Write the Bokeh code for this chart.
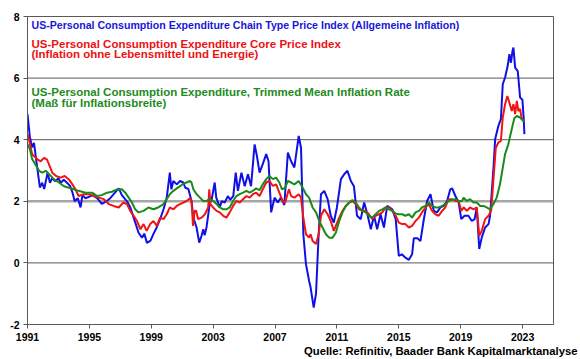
from bokeh.plotting import figure
from bokeh.models import Span, Label, FixedTicker, Range1d, Title
from bokeh.embed import file_html
from bokeh.resources import INLINE

x_ticks = [1991, 1995, 1999, 2003, 2007, 2011, 2015, 2019, 2023]
y_ticks = [-2, 0, 2, 4, 6, 8]

# PCE headline (blue)
blue_x = [1991.00, 1991.15, 1991.3, 1991.42, 1991.6, 1991.8, 1991.95, 1992.08, 1992.3, 1992.45, 1992.6, 1992.8,
          1993.0, 1993.15, 1993.35, 1993.55, 1993.75, 1993.9, 1994.05, 1994.25, 1994.43, 1994.55, 1994.75,
          1995.0, 1995.2, 1995.5, 1995.8, 1996.1, 1996.35, 1996.57, 1996.9, 1997.1, 1997.43, 1997.65, 1997.86,
          1998.18, 1998.4, 1998.55, 1998.72, 1998.95, 1999.15, 1999.35, 1999.57, 1999.8, 2000.0, 2000.2, 2000.3,
          2000.43, 2000.65, 2000.86, 2001.07, 2001.2, 2001.4, 2001.6, 2001.72, 2001.93, 2002.1, 2002.25, 2002.36,
          2002.45, 2002.57, 2002.79, 2002.9, 2003.1, 2003.2, 2003.43, 2003.55, 2003.75, 2003.95, 2004.1, 2004.3,
          2004.46, 2004.6, 2004.83, 2005.04, 2005.25, 2005.45, 2005.68, 2005.83, 2006.0, 2006.2, 2006.43, 2006.58,
          2006.75, 2006.97, 2007.18, 2007.38, 2007.6, 2007.83, 2008.04, 2008.25, 2008.53, 2008.68, 2008.83, 2009.0,
          2009.2, 2009.3, 2009.5, 2009.65, 2009.82, 2009.97, 2010.18, 2010.4, 2010.6, 2010.8, 2011.0, 2011.26,
          2011.47, 2011.68, 2011.9, 2012.1, 2012.3, 2012.54, 2012.76, 2012.97, 2013.19, 2013.4, 2013.6, 2013.82,
          2014.04, 2014.25, 2014.58, 2014.8, 2015.0, 2015.2, 2015.43, 2015.65, 2015.86, 2015.97, 2016.2, 2016.4,
          2016.6, 2016.83, 2017.05, 2017.26, 2017.47, 2017.69, 2017.9, 2018.12, 2018.33, 2018.45, 2018.65, 2018.87,
          2019.04, 2019.25, 2019.5, 2019.72, 2019.9, 2020.04, 2020.2, 2020.36, 2020.58, 2020.8, 2020.9, 2021.12,
          2021.23, 2021.44, 2021.6, 2021.72, 2021.87, 2022.04, 2022.15, 2022.25, 2022.35, 2022.41, 2022.52, 2022.69,
          2022.84, 2022.99, 2023.07, 2023.12]
blue_y = [4.83, 4.1, 3.75, 3.9, 3.2, 2.45, 2.6, 2.4, 2.93, 2.6, 2.75, 2.65,
          2.75, 2.6, 2.7, 2.6, 2.5, 2.3, 2.0, 2.1, 1.8, 2.2, 2.1,
          2.15, 2.2, 2.1, 1.92, 2.0, 2.1, 2.23, 2.42, 2.2, 2.0, 1.8, 1.47,
          0.98, 0.82, 0.95, 0.65, 0.72, 0.95, 1.15, 1.42, 1.75, 2.12, 2.93, 2.39,
          2.66, 2.55, 2.66, 2.61, 2.44, 2.4, 2.01, 1.47, 1.15, 0.66, 0.88, 1.09,
          0.9, 1.15, 1.96, 2.05, 2.61, 2.12, 1.8, 2.0, 1.96, 2.17, 2.05, 2.17,
          2.93, 2.34, 2.93, 2.49, 2.88, 2.49, 3.85, 3.47, 2.93, 3.2, 3.53, 3.3,
          1.64, 2.12, 1.96, 2.12, 1.88, 3.58, 3.3, 3.1, 4.12, 3.74, 0.93, -0.04,
          -0.58, -0.8, -1.45, -1.0, 0.93, 2.23, 2.34, 2.07, 1.53, 1.31, 1.8, 2.72,
          2.88, 2.99, 2.66, 2.49, 1.53, 1.42, 1.96, 1.58, 1.09, 1.53, 1.09, 1.58,
          1.15, 1.85, 1.74, 1.42, 0.23, 0.28, 0.17, 0.1, 0.28, 0.8, 0.8, 0.71,
          1.36, 2.01, 2.23, 1.69, 1.64, 1.8, 1.85, 2.01, 2.39, 2.42, 2.18, 1.96,
          1.42, 1.53, 1.53, 1.36, 1.42, 1.8, 0.45, 0.82, 1.15, 1.26, 1.53, 3.09,
          4.02, 4.45, 4.67, 5.8, 6.02, 6.4, 6.78, 6.5, 6.88, 6.99, 6.34, 6.23,
          5.37, 5.3, 4.72, 4.18]

# Core PCE (red)
red_x = [1991.0, 1991.1, 1991.3, 1991.64, 1991.85, 1992.07, 1992.25, 1992.35, 1992.6, 1992.85, 1993.14, 1993.4,
         1993.68, 1993.9, 1994.1, 1994.3, 1994.64, 1994.96, 1995.28, 1995.6, 1995.93, 1996.25, 1996.57, 1996.9,
         1997.2, 1997.43, 1997.64, 1997.86, 1998.08, 1998.3, 1998.5, 1998.7, 1998.93, 1999.14, 1999.36, 1999.57,
         1999.79, 2000.0, 2000.2, 2000.43, 2000.65, 2000.86, 2001.07, 2001.28, 2001.5, 2001.6, 2001.7, 2001.8,
         2001.9, 2002.03, 2002.25, 2002.47, 2002.68, 2002.75, 2002.82, 2003.0, 2003.22, 2003.43, 2003.65, 2003.86,
         2004.07, 2004.29, 2004.5, 2004.72, 2004.93, 2005.15, 2005.36, 2005.57, 2005.78, 2006.0, 2006.21, 2006.43,
         2006.64, 2006.86, 2007.07, 2007.28, 2007.5, 2007.65, 2007.83, 2007.9, 2008.04, 2008.25, 2008.53, 2008.68,
         2008.83, 2009.0, 2009.2, 2009.3, 2009.43, 2009.65, 2009.82, 2009.97, 2010.18, 2010.4, 2010.6, 2010.8,
         2010.93, 2011.15, 2011.36, 2011.58, 2011.8, 2012.0, 2012.22, 2012.43, 2012.65, 2012.86, 2013.07, 2013.29,
         2013.5, 2013.72, 2013.93, 2014.15, 2014.36, 2014.58, 2014.8, 2015.0, 2015.22, 2015.43, 2015.65, 2015.86,
         2016.08, 2016.3, 2016.5, 2016.72, 2016.93, 2017.15, 2017.37, 2017.58, 2017.8, 2018.0, 2018.22, 2018.43,
         2018.65, 2018.87, 2019.04, 2019.2, 2019.4, 2019.6, 2019.83, 2020.04, 2020.2, 2020.36, 2020.58, 2020.8,
         2020.97, 2021.12, 2021.27, 2021.44, 2021.6, 2021.72, 2021.87, 2022.02, 2022.15, 2022.3, 2022.41, 2022.52,
         2022.63, 2022.73, 2022.84, 2022.95, 2023.1]
red_y = [4.18, 4.0, 3.53, 3.36, 3.3, 3.41, 3.36, 3.25, 2.93, 2.82, 2.77, 2.82,
         2.71, 2.55, 2.39, 2.17, 2.23, 2.23, 2.17, 2.12, 2.07, 1.91, 1.85, 1.8,
         1.96, 1.91, 1.69, 1.53, 1.36, 1.09, 1.26, 1.04, 1.26, 1.36, 1.2, 1.47,
         1.42, 1.58, 1.8, 1.74, 1.85, 1.91, 1.96, 2.01, 2.1, 2.01, 1.2, 1.69,
         1.69, 1.42, 1.47, 1.58, 1.8, 2.39, 1.91, 1.8, 1.69, 1.64, 1.53, 1.47,
         1.64, 1.85, 2.01, 1.96, 2.07, 2.17, 2.12, 2.23, 2.28, 2.17, 2.39, 2.61,
         2.66, 2.5, 2.55, 2.28, 2.0, 1.95, 2.28, 2.39, 2.17, 2.12, 2.23, 2.12,
         1.47, 0.93, 0.82, 0.93, 0.71, 0.61, 0.93, 1.53, 1.74, 1.58, 1.36, 1.04,
         1.2, 1.47, 1.69, 1.85, 1.96, 2.01, 1.91, 1.74, 1.69, 1.69, 1.58, 1.42,
         1.53, 1.58, 1.64, 1.8, 1.8, 1.69, 1.53, 1.31, 1.26, 1.26, 1.15, 1.2,
         1.36, 1.47, 1.64, 1.8, 1.91, 1.69, 1.58, 1.53, 1.69, 1.8, 2.07, 2.07,
         2.01, 2.01, 1.69, 1.8, 1.69, 1.8, 1.74, 1.8, 0.88, 1.04, 1.42, 1.53,
         1.69, 2.72, 3.74, 3.91, 3.96, 4.72, 5.15, 5.42, 5.2, 4.93, 5.15, 4.83,
         5.26, 4.93, 5.0, 4.67, 4.61]

# Trimmed mean PCE (green)
green_x = [1991.0, 1991.15, 1991.3, 1991.5, 1991.75, 1991.95, 1992.18, 1992.4, 1992.71, 1993.03, 1993.36, 1993.68,
           1994.0, 1994.3, 1994.75, 1995.18, 1995.5, 1995.8, 1996.14, 1996.46, 1996.79, 1997.1, 1997.32, 1997.54,
           1997.75, 1997.96, 1998.18, 1998.5, 1998.82, 1999.14, 1999.45, 1999.79, 2000.0, 2000.2, 2000.43, 2000.65,
           2000.86, 2001.07, 2001.28, 2001.5, 2001.6, 2001.72, 2001.93, 2002.15, 2002.36, 2002.57, 2002.79, 2003.0,
           2003.22, 2003.43, 2003.65, 2003.86, 2004.07, 2004.29, 2004.5, 2004.72, 2004.93, 2005.15, 2005.36, 2005.57,
           2005.78, 2006.0, 2006.21, 2006.43, 2006.64, 2006.86, 2007.07, 2007.28, 2007.45, 2007.65, 2007.83, 2008.04,
           2008.25, 2008.53, 2008.79, 2009.0, 2009.2, 2009.43, 2009.65, 2009.86, 2010.07, 2010.29, 2010.5, 2010.72,
           2010.93, 2011.15, 2011.36, 2011.58, 2011.8, 2012.0, 2012.22, 2012.43, 2012.65, 2012.86, 2013.07, 2013.29,
           2013.5, 2013.72, 2013.93, 2014.15, 2014.36, 2014.58, 2014.8, 2015.0, 2015.22, 2015.43, 2015.65, 2015.86,
           2016.08, 2016.3, 2016.5, 2016.72, 2016.93, 2017.15, 2017.37, 2017.58, 2017.8, 2018.0, 2018.22, 2018.43,
           2018.65, 2018.87, 2019.08, 2019.19, 2019.4, 2019.6, 2019.83, 2020.04, 2020.26, 2020.47, 2020.68, 2020.9,
           2021.12, 2021.33, 2021.54, 2021.72, 2021.87, 2022.08, 2022.19, 2022.3, 2022.47, 2022.63, 2022.84, 2023.04,
           2023.1]
green_y = [3.85, 3.7, 3.37, 3.2, 2.99, 2.93, 2.99, 2.88, 2.71, 2.61, 2.49, 2.44,
           2.39, 2.34, 2.28, 2.28, 2.17, 2.2, 2.28, 2.31, 2.39, 2.39, 2.28, 2.12,
           1.96, 1.74, 1.64, 1.69, 1.8, 1.74, 1.8, 1.91, 2.07, 2.23, 2.34, 2.42,
           2.49, 2.57, 2.61, 2.66, 2.61, 2.39, 2.23, 2.12, 2.01, 2.01, 2.07, 2.01,
           1.91, 1.8, 1.74, 1.74, 1.8, 2.01, 2.17, 2.23, 2.28, 2.34, 2.28, 2.34,
           2.42, 2.36, 2.55, 2.72, 2.82, 2.72, 2.77, 2.61, 2.39, 2.44, 2.66, 2.61,
           2.55, 2.66, 2.44, 2.23, 2.12, 1.8, 1.64, 1.36, 1.15, 0.93, 0.82, 0.82,
           0.98, 1.36, 1.64, 1.85, 1.96, 2.04, 1.96, 1.8, 1.69, 1.64, 1.53, 1.47,
           1.58, 1.69, 1.74, 1.8, 1.74, 1.69, 1.6, 1.58, 1.58, 1.53, 1.58, 1.47,
           1.64, 1.69, 1.8, 1.85, 1.96, 1.85, 1.8, 1.8, 1.85, 1.91, 2.01, 2.04,
           2.07, 2.01, 2.01, 2.12, 2.01, 2.07, 1.96, 1.96, 1.85, 1.85, 1.8, 1.74,
           1.91, 2.12, 2.55, 3.09, 3.53, 3.85, 4.1, 4.34, 4.7, 4.77, 4.72, 4.61,
           4.6]

blue_label = "US-Personal Consumption Expenditure Chain Type Price Index (Allgemeine Inflation)"
red_label = ["US-Personal Consumption Expenditure Core Price Index",
             "(Inflation ohne Lebensmittel und Energie)"]
green_label = ["US-Personal Consumption Expenditure, Trimmed Mean Inflation Rate",
               "(Maß für Inflationsbreite)"]
source_text = "Quelle: Refinitiv, Baader Bank Kapitalmarktanalyse"

FONT = "Liberation Sans"
DARK = "#595959"

p = figure(width=580, height=359, output_backend="svg", toolbar_location=None,
           x_range=Range1d(1991, 2025), y_range=Range1d(-2, 8),
           min_border_left=27, min_border_right=27, min_border_top=16, min_border_bottom=30)
p.background_fill_color = "white"
p.border_fill_color = "white"
p.outline_line_color = DARK
p.outline_line_width = 1
p.xgrid.visible = False
p.ygrid.visible = False

for ax, ticks in ((p.xaxis, x_ticks), (p.yaxis, y_ticks)):
    ax.ticker = FixedTicker(ticks=ticks)
    ax.major_label_overrides = {t: str(t) for t in ticks}
    ax.major_label_text_font = FONT
    ax.major_label_text_font_style = "bold"
    ax.major_label_text_font_size = "10.5px"
    ax.major_label_text_color = "black"
    ax.axis_line_color = DARK
    ax.major_tick_line_color = DARK
    ax.minor_tick_line_color = None
    ax.major_tick_in = 0
    ax.major_tick_out = 4
p.xaxis.major_label_standoff = 4
p.yaxis.major_label_standoff = 4

p.add_layout(Title(text=source_text, align="right", offset=-24, standoff=2, vertical_align="top",
                   text_font=FONT, text_font_style="bold", text_font_size="11.3px",
                   text_color="black"), "below")

for t in y_ticks:
    if t in (y_ticks[0], y_ticks[-1]):
        continue
    if t == 2:
        s = Span(location=t, dimension="width", line_color="#A6A6A6", line_width=2.5, level="underlay")
    else:
        s = Span(location=t, dimension="width", line_color=DARK, line_width=1, level="underlay")
    p.add_layout(s)

p.line(blue_x, blue_y, line_color="#1010E6", line_width=2)
p.line(red_x, red_y, line_color="#F01414", line_width=2)
p.line(green_x, green_y, line_color="#1A8A1A", line_width=2)

def lab(text, x, y, color, size):
    p.add_layout(Label(x=x, y=y, text=text, text_color=color, text_font=FONT, text_font_style="bold",
                       text_font_size=size, text_align="left", text_baseline="middle"))

lab(blue_label, 1991.26, 7.74, "#1818D8", "10.6px")
lab(red_label[0], 1991.26, 7.12, "#EE1111", "11.5px")
lab(red_label[1], 1991.26, 6.77, "#EE1111", "11.5px")
lab(green_label[0], 1991.26, 5.56, "#228B22", "11.5px")
lab(green_label[1], 1991.26, 5.20, "#228B22", "11.5px")

open("out.html", "w").write(file_html(p, INLINE))
